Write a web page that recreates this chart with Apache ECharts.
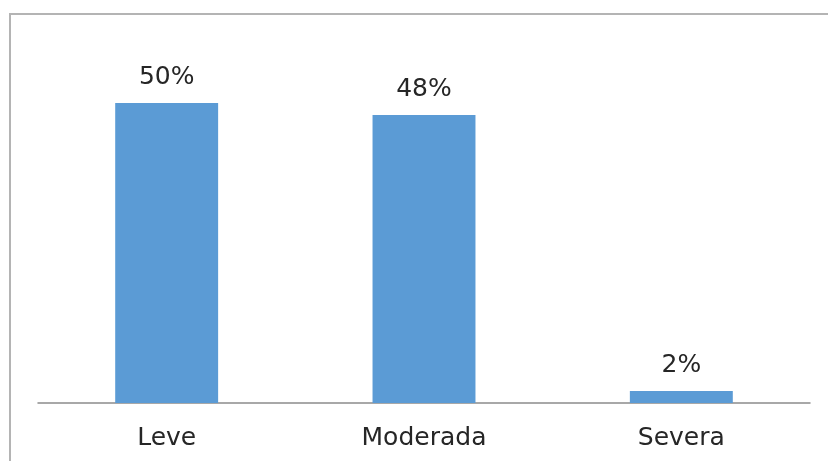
<!DOCTYPE html>
<html>
<head>
<meta charset="utf-8">
<script src="https://cdn.jsdelivr.net/npm/echarts@6/dist/echarts.min.js"></script>
<style>
  html, body { margin: 0; padding: 0; background: #fff; }
  #main { width: 828px; height: 461px; }
</style>
</head>
<body>
<div id="main"></div>
<script>
// categorias e valores (%)
var categories = ['Leve', 'Moderada', 'Severa'];
var values = [50, 48, 2];

var myChart = echarts.init(document.getElementById('main'));

var option = {
    animation: false,
    textStyle: { fontFamily: 'DejaVu Sans' },
    // moldura cinza do gráfico
    graphic: [{
        type: 'rect',
        shape: { x: 10, y: 14, width: 840, height: 480 },
        style: { fill: 'none', stroke: '#b4b4b4', lineWidth: 2 },
        silent: true
    }],
    grid: { left: 38, right: 18, top: 43, bottom: 58 },
    xAxis: {
        type: 'category',
        data: categories,
        axisLine: { lineStyle: { color: '#8c8c8c', width: 1.5 } },
        axisTick: { show: false },
        axisLabel: { color: '#262626', fontSize: 25, margin: 23 }
    },
    yAxis: {
        type: 'value',
        min: 0,
        max: 60,
        show: false,
        splitLine: { show: false }
    },
    series: [{
        type: 'bar',
        data: values,
        barWidth: '40%',
        itemStyle: { color: '#5b9bd5' },
        label: {
            show: true,
            position: 'top',
            distance: 13,
            formatter: '{c}%',
            color: '#262626',
            fontSize: 25
        }
    }]
};

myChart.setOption(option);
</script>
</body>
</html>
